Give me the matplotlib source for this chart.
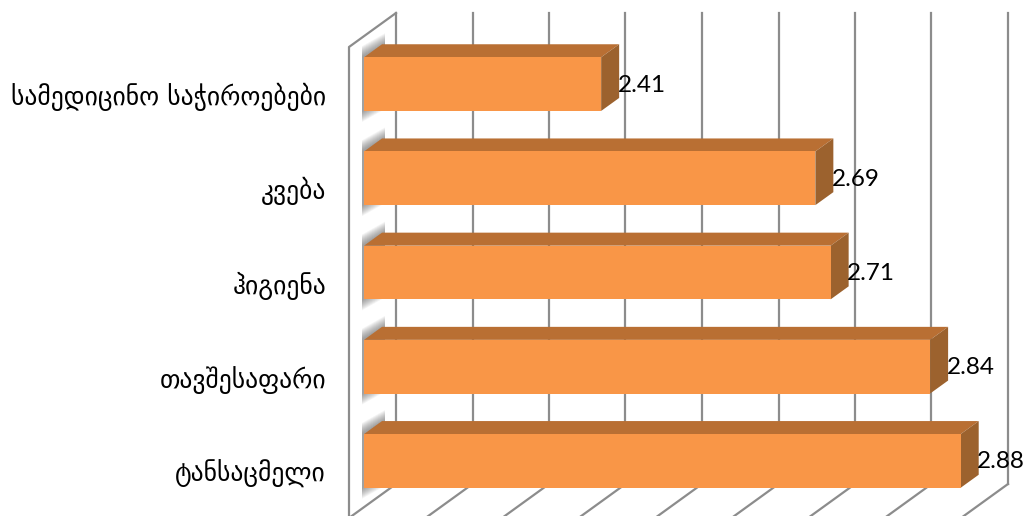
import matplotlib
matplotlib.use('Agg')
import matplotlib.pyplot as plt
from matplotlib.patches import Polygon
from matplotlib.transforms import ScaledTranslation

categories = ['ტანსაცმელი', 'თავშესაფარი', 'ჰიგიენა', 'კვება', 'სამედიცინო საჭიროებები']
values = [2.88, 2.84, 2.71, 2.69, 2.41]
x_ticks = [2.1, 2.2, 2.3, 2.4, 2.5, 2.6, 2.7, 2.8, 2.9]

W, H = 1027, 516
x_min, x_max = x_ticks[0], x_ticks[-1]
bar_h = 0.57

fig = plt.figure(figsize=(W / 100, H / 100), dpi=100)
# axes = the plane the front of the bars sits in
ax = fig.add_axes([364 / W, (H - 508) / H, 612 / W, 471 / H])
ax.set_xlim(x_min, x_max)
ax.set_ylim(-0.5, 4.5)
for s in ax.spines.values():
    s.set_visible(False)
ax.patch.set_alpha(0)

# pixel sizes in data units
px = (x_max - x_min) / 612
py = 5 / 471

wall_col = '#8c8c8c'
lw = 1.6

# back wall gridlines and floor lines
back_dx, back_dy = 32 * px, 24 * py
front_dx, front_dy = -15 * px, -10 * py
for t in x_ticks:
    ax.plot([t + back_dx] * 2, [-0.5 + back_dy, 4.5 + back_dy], color=wall_col, lw=lw, zorder=1, clip_on=False)
    ax.plot([t + back_dx, t + front_dx], [-0.5 + back_dy, -0.5 + front_dy], color=wall_col, lw=lw, zorder=1, clip_on=False)

# side wall
ax.plot([x_min + back_dx, x_min + front_dx, x_min + front_dx],
        [4.5 + back_dy, 4.5 + front_dy, -0.5 + front_dy], color=wall_col, lw=lw, zorder=1, clip_on=False)

dx, dy = 18 * px, 13 * py
ypos = list(range(len(categories)))

# soft shadow of the bars on the side wall
for y in ypos:
    lo, hi = y - bar_h / 2, y + bar_h / 2
    for e in range(1, 12):
        ext = e * py
        sh = Polygon([(x_min - 2 * px, lo - ext), (x_min + dx + 3 * px, lo + dy - ext),
                      (x_min + dx + 3 * px, hi + dy + ext), (x_min - 2 * px, hi + ext)],
                     closed=True, facecolor='#555555', alpha=0.065, edgecolor='none', zorder=2, clip_on=False)
        ax.add_patch(sh)

# bars
ax.barh(ypos, [v - x_min for v in values], left=x_min, height=bar_h, color='#F99647', zorder=4, clip_on=False)
for y, v in zip(ypos, values):
    lo, hi = y - bar_h / 2, y + bar_h / 2
    ax.add_patch(Polygon([(x_min, hi), (v, hi), (v + dx, hi + dy), (x_min + dx, hi + dy)],
                         closed=True, facecolor='#B96F33', edgecolor='none', zorder=3, clip_on=False))
    ax.add_patch(Polygon([(v, lo), (v + dx, lo + dy), (v + dx, hi + dy), (v, hi)],
                         closed=True, facecolor='#9C622E', edgecolor='none', zorder=3, clip_on=False))
    ax.annotate('%.2f' % v, (v, y), xytext=(16.5 * 0.72, -1 * 0.72), textcoords='offset points',
                ha='left', va='center', fontsize=17.5, family='Lato', color='black', zorder=5)

ax.set_xticks([])
ax.set_yticks(ypos)
ax.set_yticklabels(categories, fontsize=18.4, color='black')
ax.tick_params(axis='y', length=0, pad=38 * 0.72)
# the labels sit a little below the bar centres
shift = ScaledTranslation(0, -10 / 100, fig.dpi_scale_trans)
for lab in ax.get_yticklabels():
    lab.set_transform(lab.get_transform() + shift)

fig.savefig('out.png', dpi=100)
